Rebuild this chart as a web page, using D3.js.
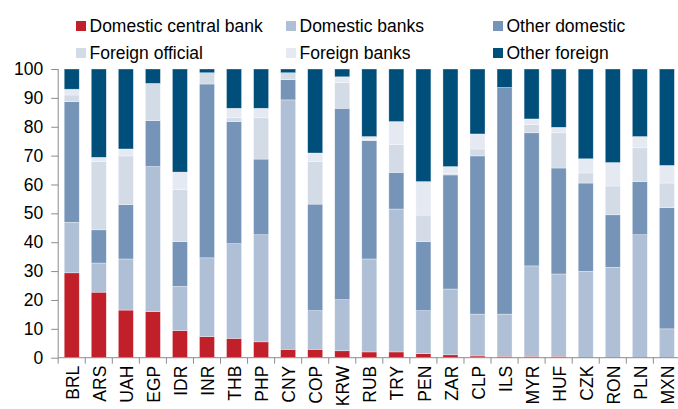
<!DOCTYPE html>
<html>
<head>
<meta charset="utf-8">
<script src="https://cdn.jsdelivr.net/npm/d3@7"></script>
<style>
  html, body { margin: 0; padding: 0; background: #fff; }
  svg { display: block; font-family: "Liberation Sans", Arial, sans-serif; }
</style>
</head>
<body>
<svg id="chart" width="678" height="409"></svg>
<script>
const categories = ["BRL","ARS","UAH","EGP","IDR","INR","THB","PHP","CNY","COP","KRW","RUB","TRY","PEN","ZAR","CLP","ILS","MYR","HUF","CZK","RON","PLN","MXN"];
const seriesNames = ["Domestic central bank","Domestic banks","Other domestic","Foreign official","Foreign banks","Other foreign"];
const domesticCentralBank = [29.4,22.7,16.5,16.0,9.4,7.3,6.7,5.5,2.9,2.9,2.4,2.0,2.0,1.4,1.0,0.6,0.5,0.5,0.5,0,0,0,0];
const domesticBanks       = [17.5,10.1,17.7,50.2,15.3,27.3,32.8,37.1,86.4,13.4,17.7,32.2,49.5,14.9,22.8,14.5,14.6,31.3,28.5,29.9,31.3,42.6,10.0];
const otherDomestic       = [41.8,11.5,18.8,15.9,15.5,60.2,42.3,26.2,7.0,36.9,66.3,41.0,12.7,23.9,39.5,54.8,78.5,46.1,36.7,30.6,18.2,18.4,42.0];
const foreignOfficial     = [2.3,23.6,16.9,12.9,18.0,3.9,1.3,14.3,2.4,14.7,8.9,0.4,9.6,9.2,0.5,2.4,0,2.8,12.2,3.5,10.0,11.7,8.5];
const foreignBanks        = [2.0,1.5,2.4,0,6.1,0,3.3,3.3,0,3.0,2.0,1.0,8.0,11.6,2.4,5.2,0,2.0,1.9,4.9,8.1,3.9,6.1];
const otherForeign        = [7.0,30.6,27.7,5.0,35.7,1.3,13.6,13.6,1.3,29.1,2.7,23.4,18.2,39.0,33.8,22.5,6.4,17.3,20.2,31.1,32.4,23.4,33.4];
const yTicks = [0,10,20,30,40,50,60,70,80,90,100];

const colors = ["#C1202A","#AFC0D6","#7594B7","#D3DBE7","#E5E9F2","#004F7A"];
const seriesArrays = [domesticCentralBank, domesticBanks, otherDomestic, foreignOfficial, foreignBanks, otherForeign];
const FS = "17.5px";

const rows = categories.map((c, i) => {
  const r = { cat: c };
  seriesNames.forEach((s, k) => r[s] = seriesArrays[k][i]);
  return r;
});

const svg = d3.select("#chart");
const x0 = 58.2, x1 = 680.4, yBottom = 357.7, yTop = 69;

const x = d3.scaleBand().domain(categories).range([x0, x1]).paddingInner(0.445).paddingOuter(0.2225);
const y = d3.scaleLinear().domain([0, 100]).range([yBottom, yTop]);

const stacked = d3.stack().keys(seriesNames)(rows);

svg.append("g").selectAll("g.series").data(stacked).join("g")
  .attr("class", "series")
  .attr("fill", (d, i) => colors[i])
  .selectAll("rect").data(d => d).join("rect")
  .attr("x", d => x(d.data.cat))
  .attr("width", x.bandwidth())
  .attr("y", d => y(d[1]))
  .attr("height", d => Math.max(0, y(d[0]) - y(d[1])))
  .attr("stroke", "#ffffff")
  .attr("stroke-opacity", 0.55)
  .attr("stroke-width", 0.6);

// Y axis
const yAxis = d3.axisLeft(y).tickValues(yTicks).tickSize(7).tickPadding(8);
const ya = svg.append("g").attr("transform", `translate(${x0},0)`).call(yAxis);
ya.select(".domain").attr("stroke", "#8c8c8c").attr("d", `M0,${yBottom}V${yTop}`);
ya.selectAll(".tick line").attr("stroke", "#8c8c8c");
ya.selectAll(".tick text").attr("fill", "#000").style("font-size", FS).style("font-family", "'Liberation Sans', Arial, sans-serif");

// X axis
const xa = svg.append("g").attr("transform", `translate(0,${yBottom})`);
xa.append("line").attr("x1", x0).attr("x2", x1).attr("y1", 0).attr("y2", 0).attr("stroke", "#8c8c8c");
const step = x.step();
const bounds = d3.range(categories.length + 1).map(i => x0 + i * step);
xa.selectAll("line.tk").data(bounds).join("line")
  .attr("class", "tk")
  .attr("x1", d => d).attr("x2", d => d)
  .attr("y1", 0).attr("y2", 6)
  .attr("stroke", "#8c8c8c");
xa.selectAll("text.lbl").data(categories).join("text")
  .attr("class", "lbl")
  .attr("transform", d => `translate(${x(d) + x.bandwidth() / 2 + 1},8) rotate(-90)`)
  .attr("text-anchor", "end")
  .attr("dy", "0.35em")
  .attr("fill", "#000")
  .style("font-size", FS)
  .text(d => d);

// Legend
const legendPos = [
  {x: 76, y: 26}, {x: 286, y: 26}, {x: 493, y: 26},
  {x: 76, y: 53}, {x: 286, y: 53}, {x: 493, y: 53}
];
const leg = svg.append("g");
seriesNames.forEach((s, i) => {
  const p = legendPos[i];
  leg.append("rect").attr("x", p.x).attr("y", p.y - 5).attr("width", 10).attr("height", 10).attr("fill", colors[i]);
  leg.append("text").attr("x", p.x + 13.5).attr("y", p.y).attr("dy", "0.35em")
    .attr("fill", "#000").style("font-size", FS).text(s);
});
</script>
</body>
</html>
